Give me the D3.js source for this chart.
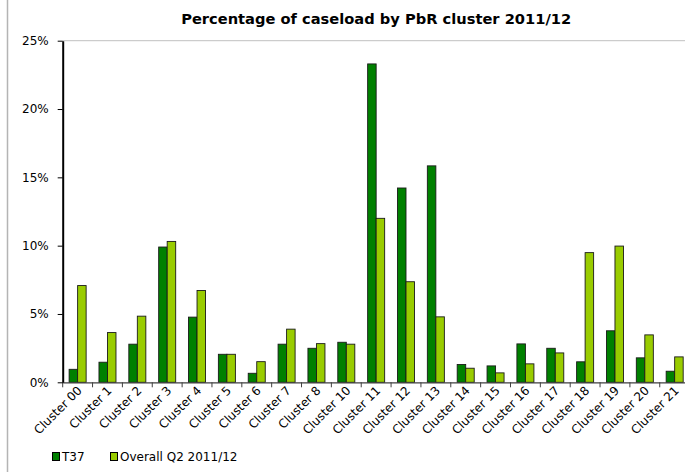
<!DOCTYPE html>
<html><head><meta charset="utf-8">
<script src="https://cdn.jsdelivr.net/npm/d3@7"></script>
<style>
html,body{margin:0;padding:0;background:#fff;}
svg{display:block;}
text{font-family:"DejaVu Sans",Verdana,sans-serif;fill:#000;}
</style></head>
<body>
<script>
const categories = ["Cluster 00","Cluster 1","Cluster 2","Cluster 3","Cluster 4","Cluster 5","Cluster 6","Cluster 7","Cluster 8","Cluster 10","Cluster 11","Cluster 12","Cluster 13","Cluster 14","Cluster 15","Cluster 16","Cluster 17","Cluster 18","Cluster 19","Cluster 20","Cluster 21"];
const seriesNames = ["T37","Overall Q2 2011/12"];
const t37 = [0.0095,0.0147,0.0279,0.099,0.0477,0.0205,0.0066,0.0279,0.0249,0.0293,0.233,0.1422,0.1584,0.013,0.012,0.0281,0.0249,0.015,0.0377,0.0179,0.0081];
const overall = [0.0708,0.0364,0.0484,0.1031,0.0672,0.0205,0.0151,0.0389,0.0283,0.0279,0.12,0.0736,0.0479,0.0103,0.0069,0.0135,0.0215,0.0949,0.0997,0.0347,0.0186];
const yTicks = [0,0.05,0.10,0.15,0.20,0.25];
const title = "Percentage of caseload by PbR cluster 2011/12";
const colors = ["#008000","#99CC00"];

const W = 685, H = 472;
const mLeft = 62.7, mRight = 689.6, mTop = 40.7, mBottom = 382.3;

const svg = d3.select("body").append("svg").attr("width",W).attr("height",H);
svg.append("rect").attr("width",W).attr("height",H).attr("fill","#fff");
// outer chart border (left edge visible)
svg.append("line").attr("x1",7.5).attr("x2",7.5).attr("y1",0).attr("y2",H).attr("stroke","#b4b4b4").attr("stroke-width",1.5);

const x = d3.scaleBand().domain(categories).range([mLeft,mRight]).padding(0);
const step = x.step();
const x1 = d3.scaleBand().domain(seriesNames).range([step*0.215, step*0.785]).padding(0);
const y = d3.scaleLinear().domain([0,0.25]).range([mBottom,mTop]);

// top gridline
svg.append("line").attr("x1",mLeft).attr("x2",W).attr("y1",y(0.25)).attr("y2",y(0.25)).attr("stroke","#c0c0c0").attr("stroke-width",1);

// title
svg.append("text").attr("x",(mLeft+mRight)/2).attr("y",24).attr("text-anchor","middle")
  .attr("font-size",13.5).attr("font-weight","bold").attr("textLength",390).attr("lengthAdjust","spacingAndGlyphs").text(title);

// bars
const data = categories.map((c,i)=>({c, vals:[t37[i],overall[i]]}));
const g = svg.append("g");
const groups = g.selectAll("g").data(data).join("g").attr("transform",d=>`translate(${x(d.c)},0)`);
groups.selectAll("rect").data(d=>d.vals.map((v,j)=>({v,s:seriesNames[j],j}))).join("rect")
  .attr("x",d=>x1(d.s)).attr("width",x1.bandwidth())
  .attr("y",d=>y(d.v)).attr("height",d=>y(0)-y(d.v))
  .attr("fill",d=>colors[d.j]).attr("stroke","#1a1a1a").attr("stroke-width",0.9);

// x axis
const xAxis = svg.append("g").attr("transform",`translate(0,${mBottom})`)
  .call(d3.axisBottom(x).tickSize(0).tickFormat(""));
xAxis.select(".domain").attr("stroke","#404040").attr("stroke-width",1.2);
const bounds = categories.map(c=>x(c)).concat([mRight]);
svg.append("g").selectAll("line").data(bounds).join("line")
  .attr("x1",d=>d).attr("x2",d=>d).attr("y1",mBottom).attr("y2",mBottom+5)
  .attr("stroke","#404040").attr("stroke-width",1);
svg.append("g").selectAll("text").data(categories).join("text")
  .attr("transform",d=>`translate(${x(d)+step/2+5},${mBottom+9}) rotate(-45)`)
  .attr("text-anchor","end").attr("font-size",12).text(d=>d);

// y axis
const yAxis = svg.append("g").attr("transform",`translate(${mLeft},0)`)
  .call(d3.axisLeft(y).tickValues(yTicks).tickFormat(d3.format(".0%")).tickSize(5).tickSizeOuter(0));
yAxis.select(".domain").attr("stroke","#000").attr("stroke-width",2);
yAxis.selectAll(".tick line").attr("stroke","#000").attr("stroke-width",1);
yAxis.selectAll(".tick text").attr("x",-14).attr("font-size",12).attr("font-family","DejaVu Sans, sans-serif").attr("fill","#000");

// legend
const legend = svg.append("g").attr("transform","translate(0,457)");
const lx = [52,110];
seriesNames.forEach((s,i)=>{
  legend.append("rect").attr("x",lx[i]+0.5).attr("y",-4.5).attr("width",7).attr("height",8)
    .attr("fill",colors[i]).attr("stroke","#000").attr("stroke-width",1);
  legend.append("text").attr("x",lx[i]+10).attr("y",0).attr("dy","0.36em").attr("font-size",12).text(s);
});
</script>
</body></html>
